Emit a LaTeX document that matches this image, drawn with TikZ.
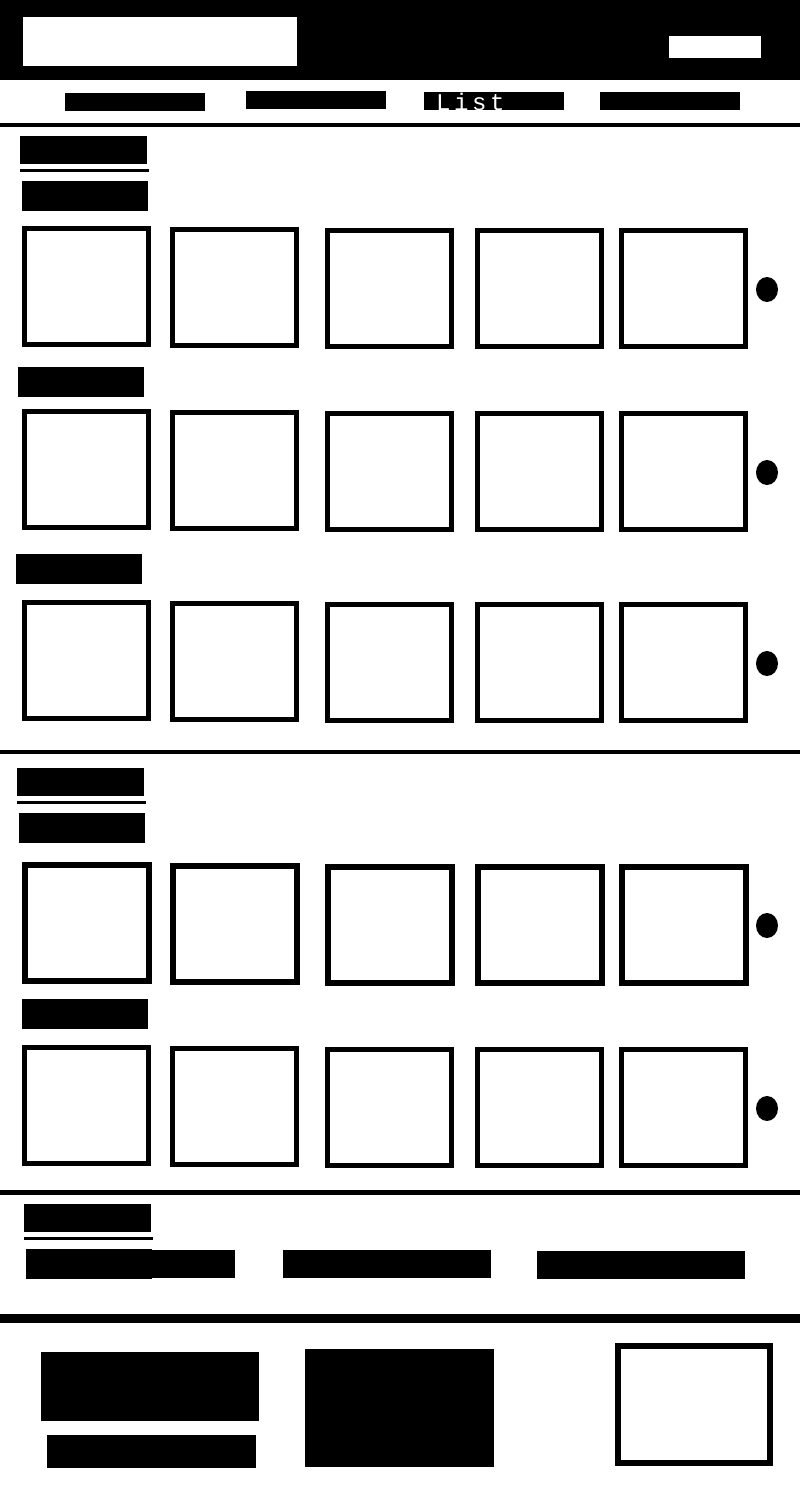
\documentclass[tikz,border=0pt]{standalone}
\usepackage{fontspec}
\newfontfamily\navfont[LetterSpace=15]{Liberation Mono}
\tikzset{
  blk/.style={fill=black, draw=none},
  wht/.style={fill=white, draw=none},
  card/.style={draw=black, line width=5pt, fill=white},
  cardthick/.style={draw=black, line width=6pt, fill=white},
  pager/.style={fill=black, draw=none},
  navlabel/.style={text=white, inner sep=0pt, anchor=base west, font=\navfont\fontsize{24pt}{24pt}\selectfont}
}
\newcommand{\cardrow}[2]{%
  \foreach \cx/\dy in {22/0,170/1,325/2,475/2,619/2}{
    \path[#2] (\cx+2.5,#1+\dy+2.5) rectangle (\cx+126.5,#1+\dy+118.5);
  }
  \path[pager] (767,#1+63.5) ellipse [x radius=11, y radius=12.5];
}
\begin{document}
\begin{tikzpicture}[x=1pt,y=-1pt]
\useasboundingbox (0,0) rectangle (800,1500);
\fill[white] (0,0) rectangle (800,1500);
% header
\path[blk] (0,0) rectangle (800,80);
\path[wht] (23,17) rectangle (297,66);
\path[wht] (669,36) rectangle (761,58);
% navigation
\path[blk] (65,93) rectangle (205,111);
\path[blk] (246,91) rectangle (386,109);
\path[blk] (424,92) rectangle (564,110);
\path[blk] (600,92) rectangle (740,110);
\node[navlabel] (navlist) at (436,110) {List};
% separators
\path[blk] (0,123) rectangle (800,127);
\path[blk] (0,750) rectangle (800,754);
\path[blk] (0,1190) rectangle (800,1195);
\path[blk] (0,1314) rectangle (800,1323);
% section 1
\path[blk] (20,136) rectangle (147,164);
\path[blk] (20,169) rectangle (149,172);
\path[blk] (22,181) rectangle (148,211);
\cardrow{226}{card}
\path[blk] (18,367) rectangle (144,397);
\cardrow{409}{card}
\path[blk] (16,554) rectangle (142,584);
\cardrow{600}{card}
% section 2
\path[blk] (17,768) rectangle (144,796);
\path[blk] (17,801) rectangle (146,804);
\path[blk] (19,813) rectangle (145,843);
\cardrow{862}{cardthick}
\path[blk] (22,999) rectangle (148,1029);
\cardrow{1045}{card}
% section 3
\path[blk] (24,1204) rectangle (151,1232);
\path[blk] (24,1237) rectangle (153,1240);
\path[blk] (26,1250) rectangle (235,1278);
\path[blk] (26,1249) rectangle (152,1279);
\path[blk] (283,1250) rectangle (491,1278);
\path[blk] (537,1251) rectangle (745,1279);
% footer
\path[blk] (41,1352) rectangle (259,1421);
\path[blk] (47,1435) rectangle (256,1468);
\path[blk] (305,1349) rectangle (494,1467);
\path[draw=black, line width=6pt, fill=white] (618,1346) rectangle (770,1463);
\end{tikzpicture}
\end{document}
